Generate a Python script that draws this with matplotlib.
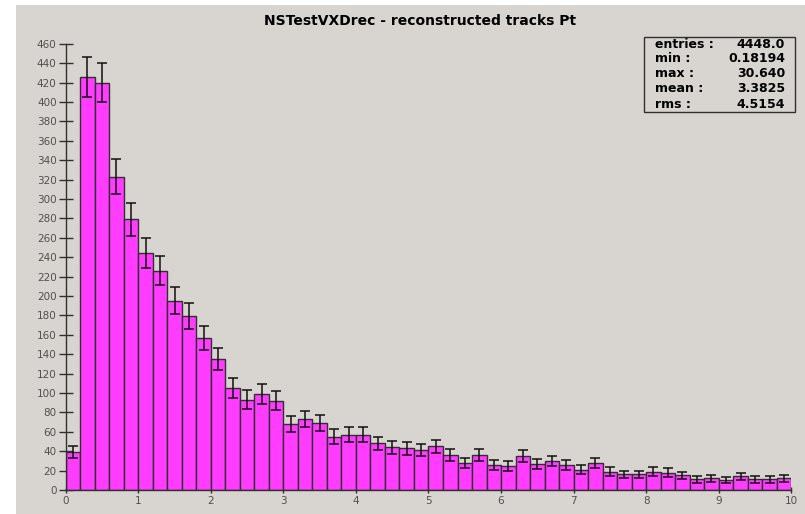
import numpy as np
import matplotlib
matplotlib.use("Agg")
import matplotlib.pyplot as plt
from matplotlib.patches import Rectangle

# histogram of reconstructed track Pt, 50 bins from 0 to 10
bin_edges = np.linspace(0, 10, 51)
counts = [39, 426, 420, 323, 279, 244, 226, 195, 179, 157,
          135, 105, 93, 99, 92, 68, 73, 69, 55, 57,
          57, 48, 44, 43, 41, 45, 36, 28, 36, 26,
          25, 35, 27, 30, 26, 21, 28, 19, 16, 16,
          19, 18, 15, 11, 12, 10, 14, 11, 11, 12]
errors = np.sqrt(counts)

title = "NSTestVXDrec - reconstructed tracks Pt"
stat_names = ["entries :", "min :", "max :", "mean :", "rms :"]
stat_values = ["4448.0", "0.18194", "30.640", "3.3825", "4.5154"]

bg = "#d8d4d0"
W, H = 805, 514

fig = plt.figure(figsize=(W / 100, H / 100), dpi=100, facecolor="white")
# grey panel, leaving a thin white strip at left and top
fig.patches.append(Rectangle((16 / W, 0), 1, (H - 5) / H, transform=fig.transFigure,
                             facecolor=bg, edgecolor="none", zorder=-10))

ax = fig.add_axes([65.7 / W, 24 / H, (791.3 - 65.7) / W, (490 - 43.7) / H])
ax.set_facecolor("none")
ax.set_zorder(1)

centers = (bin_edges[:-1] + bin_edges[1:]) / 2
widths = np.diff(bin_edges)
ax.bar(bin_edges[:-1], counts, width=widths, align="edge",
       color="#ff3cff", edgecolor="#303030", linewidth=1.0, zorder=2)
ax.errorbar(centers, counts, yerr=errors, fmt="none", ecolor="#111111",
            elinewidth=1.1, capsize=3.3, capthick=1.1, zorder=3)

ax.set_xlim(0, 10)
ax.set_ylim(0, 460)
ax.set_xticks(range(0, 11))
ax.set_yticks(range(0, 461, 20))
ax.set_axisbelow(True)

for s in ["top", "right"]:
    ax.spines[s].set_visible(False)
for s in ["left", "bottom"]:
    ax.spines[s].set_color("#303030")
    ax.spines[s].set_linewidth(1.0)

ax.tick_params(axis="y", direction="inout", length=10, width=1, color="#303030",
               labelsize=7.5, labelcolor="#505050", pad=1.5)
ax.tick_params(axis="x", direction="inout", length=5, width=1, color="#303030",
               labelsize=7.5, labelcolor="#505050", pad=2)

fig.text(420 / W, 1 - 21 / H, title, ha="center", va="center",
         fontsize=10, fontweight="bold", color="black")

# statistics box
fig.patches.append(Rectangle((644 / W, 1 - 112 / H), (795 - 644) / W, (112 - 37) / H,
                             transform=fig.transFigure, facecolor="none",
                             edgecolor="#303030", linewidth=1.0, zorder=5))
for i, (name, val) in enumerate(zip(stat_names, stat_values)):
    y = 1 - (44 + 15 * i) / H
    fig.text(655 / W, y, name, ha="left", va="center", fontsize=9,
             fontweight="bold", color="black")
    fig.text(785 / W, y, val, ha="right", va="center", fontsize=9,
             fontweight="bold", color="black")

fig.savefig("out.png", dpi=100, facecolor=fig.get_facecolor())
